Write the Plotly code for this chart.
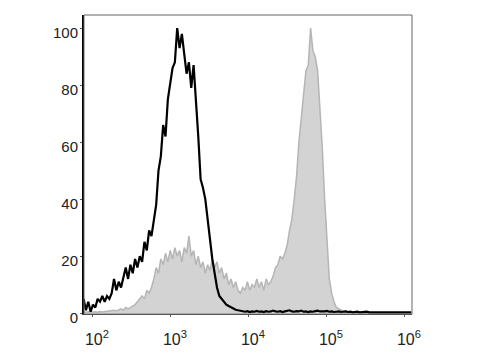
import numpy as np
import plotly.graph_objects as go

# Histogram bins: log10 channel positions (common grid for both samples)
n_bins = 141
log_start, log_step = 1.88, 0.03
channel = 10 ** (log_start + log_step * np.arange(n_bins))

# Unstained / control (black line), % of max
black_counts = [
    5, 1, 4, 0.5, 3, 2, 5, 4, 6, 4,
    6, 5, 7, 12, 8, 11, 9, 13, 16, 12,
    17, 14, 19, 16, 20, 18, 25, 22, 29, 27,
    33, 38, 50, 55, 66, 62, 75, 80, 86, 88,
    100, 93, 98, 91, 84, 88, 79, 87, 76, 62,
    47, 44, 40, 33, 24, 19, 14, 9, 6, 5,
    4, 3, 2.5, 2, 1.5, 1.2, 1, 0.8,
    0.6, 0.5, 0.7, 0.4, 0.6, 0.5, 0.8, 0.5, 0.6, 0.4,
    0.7, 0.5, 0.6, 0.9, 0.6, 0.5, 0.7, 0.4, 0.6, 0.8,
    1.0, 0.6, 0.5, 0.7, 0.6, 0.9, 0.5, 0.6, 0.4, 0.6,
    0.5, 0.7, 0.9, 0.6, 0.5, 0.6, 0.8, 0.5, 0.6, 0.4,
    0.5, 0.6, 0.4, 0.5, 0.6, 0.4, 0.5, 0.3, 0.4, 0.5,
    0.3, 0.4, 0.3, 0.5, 0.3, 0.4, 0.3, 0.3, 0.4, 0.3,
    0.3, 0.4, 0.3, 0.3, 0.3, 0.4, 0.3, 0.3, 0.3, 0.3,
    0.3, 0.3, 0.3,
]

# Stained sample (grey filled), % of max
grey_counts = [
    0.4, 0.3, 0.5, 0.3, 0.4, 0.5, 0.3, 0.6, 0.4, 0.5,
    0.6, 0.8, 0.7, 1.0, 0.8, 1.1, 1.5, 1.0, 2.0, 1.5,
    2.0, 2.5, 3, 4, 5, 6, 5, 8, 7, 9,
    12, 16, 14, 19, 17, 21, 18, 22, 19, 23,
    20, 22, 18, 23, 21, 27, 20, 22, 17, 20,
    16, 18, 14, 17, 15, 19, 16, 18, 14, 16,
    12, 14, 10, 12, 9, 11, 8, 7, 9, 8,
    11, 8, 10, 9, 12, 9, 11, 8, 12, 10,
    11, 13, 16, 17, 20, 19, 21, 24, 29, 33,
    40, 48, 60, 68, 75, 85, 87, 100, 92, 90,
    85, 72, 58, 40, 24, 12, 7, 4, 2, 1.5,
    1, 0.6, 0.8, 0.4, 0.3, 0.2, 0.2, 0.1, 0.2, 0.1,
    0.1, 0.1, 0.1, 0.1, 0.1, 0.1, 0.1, 0.1, 0.1, 0.1,
    0.1, 0.1, 0.1, 0.1, 0.1, 0.1, 0.1, 0.1, 0.1, 0.1,
    0.1,
]

x_tickvals = [1e2, 1e3, 1e4, 1e5, 1e6]
x_ticktext = ["10<sup>2</sup>", "10<sup>3</sup>", "10<sup>4</sup>",
              "10<sup>5</sup>", "10<sup>6</sup>"]
y_tickvals = [0, 20, 40, 60, 80, 100]

fig = go.Figure()
fig.add_trace(go.Scatter(
    x=channel, y=grey_counts, mode="lines", fill="tozeroy",
    fillcolor="#d3d3d3", line=dict(color="#b5b5b5", width=1.5),
    showlegend=False, hoverinfo="skip"))
fig.add_trace(go.Scatter(
    x=channel, y=black_counts, mode="lines",
    line=dict(color="#000000", width=2.2),
    showlegend=False, hoverinfo="skip"))

fig.update_layout(
    width=480, height=360,
    margin=dict(l=84, r=68, t=15, b=41),
    paper_bgcolor="white", plot_bgcolor="white",
    font=dict(family="Liberation Sans, Arial, sans-serif", size=15, color="#222"),
    xaxis=dict(type="log", range=[1.885, 6.09], tickvals=x_tickvals,
               ticktext=x_ticktext, ticks="outside", ticklen=2,
               tickcolor="#555", showgrid=False, zeroline=False,
               showline=True, linecolor="#444", linewidth=1,
               ticklabelstandoff=9, ticklabelshift=4,
               tickfont=dict(size=16)),
    yaxis=dict(range=[-0.3, 104.6], tickvals=y_tickvals, ticks="outside",
               ticklen=2, tickcolor="#555", showgrid=False, zeroline=False,
               showline=True, linecolor="#000", linewidth=2,
               ticklabelstandoff=-1, ticklabelshift=5,
               tickfont=dict(size=15)),
    shapes=[dict(type="rect", xref="paper", yref="paper", x0=0, y0=0, x1=1, y1=1,
                 line=dict(color="#666", width=1), fillcolor="rgba(0,0,0,0)",
                 layer="above")],
)

fig.write_html("out.html")
